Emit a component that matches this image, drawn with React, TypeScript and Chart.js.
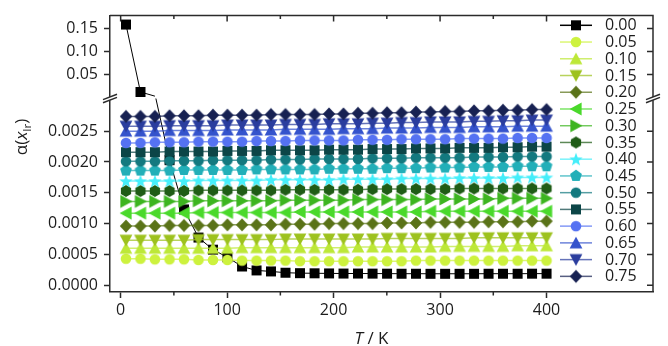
import React, { useEffect, useRef } from 'react';
import { Chart, registerables } from 'chart.js';

Chart.register(...registerables);

// ---------- data ----------
const temperatureK = [5, 18.6, 32.2, 45.9, 59.5, 73.1, 86.7, 100.3, 114.0, 127.6, 141.2, 154.8, 168.4, 182.1, 195.7, 209.3, 222.9, 236.6, 250.2, 263.8, 277.4, 291.0, 304.7, 318.3, 331.9, 345.5, 359.1, 372.8, 386.4, 400.0];

const compositionLabels = ['0.00', '0.05', '0.10', '0.15', '0.20', '0.25', '0.30', '0.35', '0.40', '0.45', '0.50', '0.55', '0.60', '0.65', '0.70', '0.75'];

const alpha000 = [0.1586, 0.0122, 0.0031, 0.00203, 0.00123, 0.000774, 0.000577, 0.000454, 0.000304, 0.00024, 0.000224, 0.000203, 0.000196, 0.000194, 0.000192, 0.00019, 0.00019, 0.000189, 0.000188, 0.000187, 0.000187, 0.000186, 0.000186, 0.000186, 0.000186, 0.000187, 0.000187, 0.000187, 0.000188, 0.000188];
const alpha005 = [0.00043, 0.00043, 0.00042, 0.00042, 0.00042, 0.00041, 0.00041, 0.00041, 0.0004, 0.0004, 0.0004, 0.0004, 0.00039, 0.00039, 0.00039, 0.00039, 0.00039, 0.00039, 0.00039, 0.00039, 0.0004, 0.0004, 0.0004, 0.0004, 0.0004, 0.0004, 0.0004, 0.0004, 0.0004, 0.0004];
const alpha010 = [0.0006, 0.0006, 0.0006, 0.0006, 0.0006, 0.0006, 0.0006, 0.0006, 0.00061, 0.00061, 0.00061, 0.00061, 0.00061, 0.00061, 0.00061, 0.00061, 0.00062, 0.00062, 0.00062, 0.00062, 0.00062, 0.00062, 0.00063, 0.00063, 0.00063, 0.00063, 0.00063, 0.00064, 0.00064, 0.00064];
const alpha015 = [0.00073, 0.00073, 0.00073, 0.00073, 0.00073, 0.00074, 0.00074, 0.00074, 0.00074, 0.00074, 0.00074, 0.00075, 0.00075, 0.00075, 0.00075, 0.00075, 0.00075, 0.00075, 0.00076, 0.00076, 0.00076, 0.00076, 0.00076, 0.00076, 0.00077, 0.00077, 0.00077, 0.00077, 0.00077, 0.00077];
const alpha020 = [0.00096, 0.00096, 0.00096, 0.00097, 0.00097, 0.00097, 0.00097, 0.00098, 0.00098, 0.00098, 0.00098, 0.00099, 0.00099, 0.00099, 0.001, 0.001, 0.001, 0.001, 0.00101, 0.00101, 0.00101, 0.00102, 0.00102, 0.00102, 0.00102, 0.00103, 0.00103, 0.00103, 0.00104, 0.00104];
const alpha025 = [0.00117, 0.00117, 0.00117, 0.00117, 0.00117, 0.00118, 0.00118, 0.00118, 0.00118, 0.00118, 0.00118, 0.00118, 0.00119, 0.00119, 0.00119, 0.00119, 0.00119, 0.00119, 0.00119, 0.00119, 0.00119, 0.0012, 0.0012, 0.0012, 0.0012, 0.0012, 0.0012, 0.0012, 0.0012, 0.0012];
const alpha030 = [0.00136, 0.00136, 0.00136, 0.00136, 0.00136, 0.00137, 0.00137, 0.00137, 0.00137, 0.00137, 0.00137, 0.00138, 0.00138, 0.00138, 0.00138, 0.00138, 0.00139, 0.00139, 0.00139, 0.00139, 0.00139, 0.0014, 0.0014, 0.0014, 0.0014, 0.0014, 0.00141, 0.00141, 0.00141, 0.00141];
const alpha035 = [0.00153, 0.00153, 0.00153, 0.00153, 0.00153, 0.00154, 0.00154, 0.00154, 0.00154, 0.00154, 0.00154, 0.00155, 0.00155, 0.00155, 0.00155, 0.00155, 0.00155, 0.00156, 0.00156, 0.00156, 0.00156, 0.00156, 0.00156, 0.00157, 0.00157, 0.00157, 0.00157, 0.00157, 0.00157, 0.00157];
const alpha040 = [0.00169, 0.00169, 0.00169, 0.00169, 0.00169, 0.0017, 0.0017, 0.0017, 0.0017, 0.0017, 0.00171, 0.00171, 0.00171, 0.00171, 0.00171, 0.00172, 0.00172, 0.00172, 0.00172, 0.00173, 0.00173, 0.00173, 0.00173, 0.00174, 0.00174, 0.00174, 0.00174, 0.00175, 0.00175, 0.00175];
const alpha045 = [0.00186, 0.00186, 0.00186, 0.00186, 0.00187, 0.00187, 0.00187, 0.00187, 0.00187, 0.00188, 0.00188, 0.00188, 0.00188, 0.00188, 0.00189, 0.00189, 0.00189, 0.00189, 0.0019, 0.0019, 0.0019, 0.00191, 0.00191, 0.00191, 0.00192, 0.00192, 0.00192, 0.00193, 0.00193, 0.00193];
const alpha050 = [0.00201, 0.00201, 0.00201, 0.00202, 0.00202, 0.00202, 0.00203, 0.00203, 0.00203, 0.00203, 0.00204, 0.00204, 0.00204, 0.00205, 0.00205, 0.00205, 0.00205, 0.00206, 0.00206, 0.00206, 0.00207, 0.00207, 0.00207, 0.00207, 0.00208, 0.00208, 0.00208, 0.00209, 0.00209, 0.00209];
const alpha055 = [0.00216, 0.00216, 0.00216, 0.00217, 0.00217, 0.00217, 0.00217, 0.00218, 0.00218, 0.00218, 0.00219, 0.00219, 0.00219, 0.00219, 0.0022, 0.0022, 0.0022, 0.00221, 0.00221, 0.00221, 0.00222, 0.00222, 0.00222, 0.00223, 0.00223, 0.00223, 0.00224, 0.00224, 0.00225, 0.00225];
const alpha060 = [0.00231, 0.00231, 0.00232, 0.00232, 0.00232, 0.00233, 0.00233, 0.00233, 0.00233, 0.00234, 0.00234, 0.00234, 0.00235, 0.00235, 0.00235, 0.00235, 0.00236, 0.00236, 0.00236, 0.00237, 0.00237, 0.00237, 0.00237, 0.00238, 0.00238, 0.00238, 0.00238, 0.00239, 0.00239, 0.00239];
const alpha065 = [0.0025, 0.0025, 0.0025, 0.00251, 0.00251, 0.00251, 0.00251, 0.00252, 0.00252, 0.00252, 0.00252, 0.00253, 0.00253, 0.00253, 0.00253, 0.00254, 0.00254, 0.00254, 0.00255, 0.00255, 0.00255, 0.00256, 0.00256, 0.00256, 0.00257, 0.00257, 0.00257, 0.00258, 0.00258, 0.00258];
const alpha070 = [0.00258, 0.00258, 0.00258, 0.00259, 0.00259, 0.00259, 0.00259, 0.0026, 0.0026, 0.0026, 0.0026, 0.00261, 0.00261, 0.00261, 0.00262, 0.00262, 0.00262, 0.00263, 0.00263, 0.00264, 0.00264, 0.00265, 0.00265, 0.00265, 0.00266, 0.00266, 0.00267, 0.00267, 0.00268, 0.00268];
const alpha075 = [0.00274, 0.00274, 0.00274, 0.00275, 0.00275, 0.00275, 0.00276, 0.00276, 0.00276, 0.00276, 0.00277, 0.00277, 0.00277, 0.00277, 0.00278, 0.00278, 0.00279, 0.00279, 0.0028, 0.0028, 0.00281, 0.00281, 0.00282, 0.00282, 0.00283, 0.00283, 0.00284, 0.00284, 0.00285, 0.00285];

const seriesValues = [alpha000, alpha005, alpha010, alpha015, alpha020, alpha025, alpha030, alpha035, alpha040, alpha045, alpha050, alpha055, alpha060, alpha065, alpha070, alpha075];

// index of the 0.00 point that sits in the axis break (shared by both segments)
const breakIndex = 2;

const xMajorTicks = [0, 100, 200, 300, 400];
const xMinorTicks = [50, 150, 250, 350];
const yLowTicks = [0, 0.0005, 0.001, 0.0015, 0.002, 0.0025];
const yHighTicks = [0.05, 0.1, 0.15];

// ---------- styles ----------
const seriesColors = ['#000000', '#cdf23e', '#bde838', '#9dc21e', '#5a7318', '#4ad92b', '#3db520', '#1f5c16', '#45eefa', '#22afb8', '#13797f', '#0c4547', '#5572f2', '#3453cc', '#2a3d9e', '#172152'];
const seriesShapes = ['square', 'circle', 'triUp', 'triDown', 'diamond', 'triLeft', 'triRight', 'hexagon', 'star', 'pentagon', 'circle', 'square', 'circle', 'triUp', 'triDown', 'diamond'];

const FONT = "'Open Sans', 'Noto Sans', sans-serif";
const AXIS = '#2b2b2b';
const TEXT = '#1c1c1c';

function rgba(hex: string, a: number) {
  const n = parseInt(hex.slice(1), 16);
  return `rgba(${(n >> 16) & 255},${(n >> 8) & 255},${n & 255},${a})`;
}

function makeMarker(shape: string, color: string): HTMLCanvasElement {
  const size = 18;
  const c = document.createElement('canvas');
  c.width = size;
  c.height = size;
  const g = c.getContext('2d') as CanvasRenderingContext2D;
  const m = size / 2;
  g.fillStyle = color;
  g.beginPath();
  const poly = (pts: number[][]) => {
    pts.forEach(([px, py], i) => (i ? g.lineTo(m + px, m + py) : g.moveTo(m + px, m + py)));
    g.closePath();
  };
  const regular = (n: number, r: number, rot: number) => {
    const pts: number[][] = [];
    for (let i = 0; i < n; i++) {
      const a = rot + (i * 2 * Math.PI) / n;
      pts.push([r * Math.sin(a), -r * Math.cos(a)]);
    }
    poly(pts);
  };
  switch (shape) {
    case 'square':
      g.rect(m - 5, m - 5, 10, 10);
      break;
    case 'circle':
      g.arc(m, m, 5.3, 0, Math.PI * 2);
      break;
    case 'triUp':
      poly([[0, -6.2], [6.4, 5.6], [-6.4, 5.6]]);
      break;
    case 'triDown':
      poly([[0, 6.2], [6.4, -5.6], [-6.4, -5.6]]);
      break;
    case 'triLeft':
      poly([[-6.4, 0], [5.6, -6.5], [5.6, 6.5]]);
      break;
    case 'triRight':
      poly([[6.4, 0], [-5.6, -6.5], [-5.6, 6.5]]);
      break;
    case 'diamond':
      poly([[0, -6.6], [6.2, 0], [0, 6.6], [-6.2, 0]]);
      break;
    case 'hexagon':
      regular(6, 5.9, 0);
      break;
    case 'pentagon':
      regular(5, 6.2, 0);
      break;
    case 'star': {
      const pts: number[][] = [];
      for (let i = 0; i < 10; i++) {
        const r = i % 2 === 0 ? 7 : 2.9;
        const a = (i * Math.PI) / 5;
        pts.push([r * Math.sin(a), -r * Math.cos(a) + 0.6]);
      }
      poly(pts);
      break;
    }
  }
  g.fill();
  return c;
}

export default function App() {
  const ref = useRef<HTMLCanvasElement>(null);

  useEffect(() => {
    const canvas = ref.current;
    if (!canvas) return;
    const markers = seriesShapes.map((s, i) => makeMarker(s, seriesColors[i]));

    const datasets: any[] = [];
    seriesValues.forEach((vals, i) => {
      const points = temperatureK.map((t, k) => ({ x: t, y: vals[k] }));
      const common = {
        borderColor: i === 0 ? '#000000' : rgba(seriesColors[i], 0.72),
        borderWidth: i === 0 ? 1 : 1.5,
        backgroundColor: seriesColors[i],
        pointStyle: markers[i],
        pointRadius: 6,
        pointHoverRadius: 6,
        pointBorderWidth: 0,
        tension: 0,
        fill: false,
      };
      if (i === 0) {
        datasets.push({
          ...common,
          label: compositionLabels[0] + ' upper',
          data: points.slice(0, breakIndex + 1),
          yAxisID: 'yTop',
          order: 18,
          pointRadius: (c: any) => (c.dataIndex === breakIndex ? 0 : 6),
        });
        datasets.push({
          ...common,
          label: compositionLabels[0],
          data: points.slice(breakIndex),
          yAxisID: 'y',
          order: 17,
          pointRadius: (c: any) => (c.dataIndex === 0 ? 0 : 6),
        });
      } else {
        datasets.push({ ...common, label: compositionLabels[i], data: points, yAxisID: 'y', order: 16 - i });
      }
    });

    const tickFont = { family: FONT, size: 16 };
    const gridOpts = { drawOnChartArea: false, drawTicks: true, tickLength: 6, tickWidth: 1.5, tickColor: AXIS };
    const borderOpts = { display: true, color: AXIS, width: 1.5 };

    const decor = {
      id: 'decor',
      afterDraw(chart: any) {
        const { ctx, chartArea: a, scales } = chart;
        const sx = scales.x;
        const yb = scales.y;
        const yt = scales.yTop;
        ctx.save();
        ctx.strokeStyle = AXIS;
        ctx.lineWidth = 1.5;
        ctx.beginPath();
        ctx.moveTo(a.left, a.top);
        ctx.lineTo(a.right, a.top);
        ctx.lineTo(a.right, a.bottom);
        ctx.stroke();
        ctx.beginPath();
        xMajorTicks.forEach((v) => {
          const px = sx.getPixelForValue(v);
          ctx.moveTo(px, a.top);
          ctx.lineTo(px, a.top + 6);
        });
        xMinorTicks.forEach((v) => {
          const px = sx.getPixelForValue(v);
          ctx.moveTo(px, a.top);
          ctx.lineTo(px, a.top + 3.5);
          ctx.moveTo(px, a.bottom);
          ctx.lineTo(px, a.bottom + 3.5);
        });
        yLowTicks.forEach((v) => {
          const py = yb.getPixelForValue(v);
          ctx.moveTo(a.right, py);
          ctx.lineTo(a.right - 6, py);
        });
        yHighTicks.forEach((v) => {
          const py = yt.getPixelForValue(v);
          ctx.moveTo(a.right, py);
          ctx.lineTo(a.right - 6, py);
        });
        ctx.stroke();

        // axis break marks
        const by = yt.bottom;
        [a.left, a.right].forEach((xx: number) => {
          ctx.fillStyle = '#ffffff';
          ctx.fillRect(xx - 2, by - 1.6, 4, 3.2);
          ctx.beginPath();
          [-1.6, 1.6].forEach((d) => {
            ctx.moveTo(xx - 7, by + d + 2.7);
            ctx.lineTo(xx + 7, by + d - 2.7);
          });
          ctx.stroke();
        });

        // legend
        const lx = a.right - 93;
        const rowH = (a.bottom - a.top - 22) / 15.2;
        ctx.font = `16px ${FONT}`;
        ctx.textBaseline = 'middle';
        ctx.textAlign = 'left';
        compositionLabels.forEach((lab, i) => {
          const y = a.top + 9.7 + i * rowH;
          ctx.strokeStyle = i === 0 ? '#000000' : rgba(seriesColors[i], 0.72);
          ctx.lineWidth = 1.5;
          ctx.beginPath();
          ctx.moveTo(lx, y);
          ctx.lineTo(lx + 32, y);
          ctx.stroke();
          ctx.drawImage(markers[i], lx + 16 - 9, y - 9);
          ctx.fillStyle = TEXT;
          ctx.fillText(lab, lx + 45, y + 0.5);
        });

        // y title  α(x_Ir)
        ctx.fillStyle = TEXT;
        ctx.textBaseline = 'alphabetic';
        ctx.save();
        ctx.translate(27, 137);
        ctx.rotate(-Math.PI / 2);
        const segs = [
          { t: 'α(', f: `17px ${FONT}`, dy: 0 },
          { t: 'x', f: `italic 17px ${FONT}`, dy: 0 },
          { t: 'Ir', f: `11.5px ${FONT}`, dy: 3.5 },
          { t: ')', f: `17px ${FONT}`, dy: 0 },
        ];
        let total = 0;
        segs.forEach((s) => {
          ctx.font = s.f;
          total += ctx.measureText(s.t).width;
        });
        let cx = -total / 2;
        segs.forEach((s) => {
          ctx.font = s.f;
          ctx.fillText(s.t, cx, s.dy);
          cx += ctx.measureText(s.t).width;
        });
        ctx.restore();

        // x title  T / K
        const xs = [
          { t: 'T', f: `italic 17px ${FONT}` },
          { t: ' / K', f: `17px ${FONT}` },
        ];
        let tw = 0;
        xs.forEach((s) => {
          ctx.font = s.f;
          tw += ctx.measureText(s.t).width;
        });
        let tx = 371.5 - tw / 2;
        xs.forEach((s) => {
          ctx.font = s.f;
          ctx.fillText(s.t, tx, 344);
          tx += ctx.measureText(s.t).width;
        });
        ctx.restore();
      },
    };

    const chart = new Chart(canvas, {
      type: 'line',
      data: { datasets },
      options: {
        animation: false,
        responsive: false,
        devicePixelRatio: 1,
        layout: { padding: { left: 0, top: 12, right: 15, bottom: 0 } },
        plugins: { legend: { display: false }, tooltip: { enabled: false } },
        events: [],
        scales: {
          x: {
            type: 'linear',
            position: 'bottom',
            min: -10,
            max: 500,
            afterBuildTicks: (s: any) => {
              s.ticks = xMajorTicks.map((v) => ({ value: v }));
            },
            afterFit: (s: any) => {
              s.height = 54;
            },
            ticks: { font: tickFont, color: TEXT, padding: 3, autoSkip: false, maxRotation: 0, callback: (v: any) => String(v) },
            grid: gridOpts,
            border: borderOpts,
          },
          y: {
            type: 'linear',
            position: 'left',
            stack: 'ybreak',
            stackWeight: 196,
            min: -0.00011,
            max: 0.00303,
            afterBuildTicks: (s: any) => {
              s.ticks = yLowTicks.map((v) => ({ value: v }));
            },
            afterFit: (s: any) => {
              s.width = 110;
            },
            ticks: { font: tickFont, color: TEXT, padding: 6, autoSkip: false, callback: (v: any) => Number(v).toFixed(4) },
            grid: gridOpts,
            border: borderOpts,
          },
          yTop: {
            type: 'linear',
            position: 'left',
            stack: 'ybreak',
            stackWeight: 84,
            min: -0.002,
            max: 0.178,
            afterBuildTicks: (s: any) => {
              s.ticks = yHighTicks.map((v) => ({ value: v }));
            },
            afterFit: (s: any) => {
              s.width = 110;
            },
            ticks: { font: tickFont, color: TEXT, padding: 6, autoSkip: false, callback: (v: any) => Number(v).toFixed(2) },
            grid: gridOpts,
            border: borderOpts,
          },
        },
      } as any,
      plugins: [decor],
    });
    return () => chart.destroy();
  }, []);

  return (
    <div style={{ position: 'fixed', left: 0, top: 0, width: 668, height: 346, background: '#ffffff' }}>
      <canvas ref={ref} width={668} height={346} style={{ display: 'block', width: 668, height: 346 }} />
    </div>
  );
}
